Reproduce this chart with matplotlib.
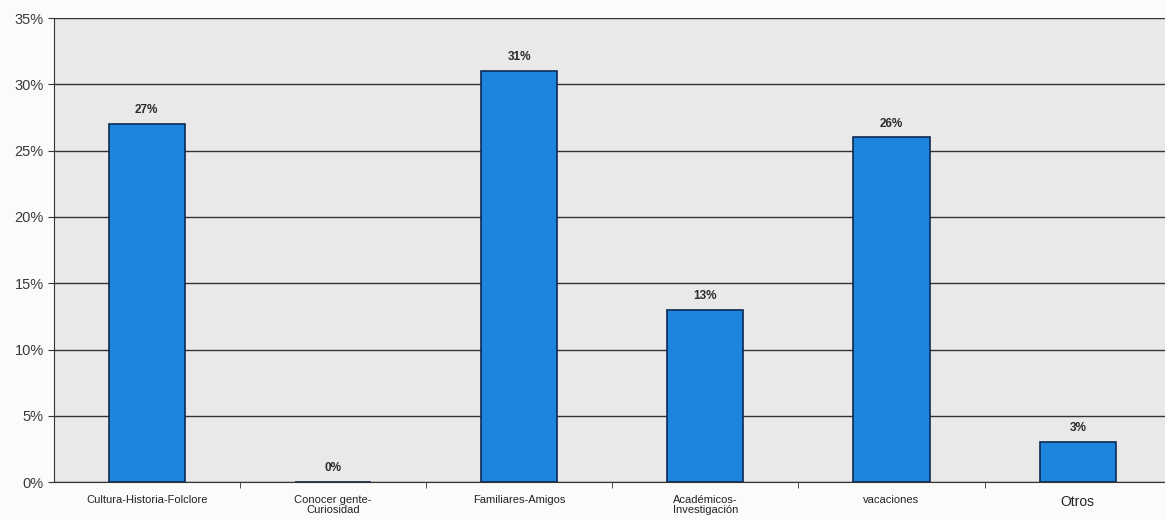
import matplotlib
matplotlib.use("Agg")
import matplotlib.pyplot as plt
import numpy as np

categories = ["Cultura-Historia-Folclore", "Conocer gente-\nCuriosidad", "Familiares-Amigos",
              "Académicos-\nInvestigación", "vacaciones", "Otros"]
values = [27, 0, 31, 13, 26, 3]
yticks = [0, 5, 10, 15, 20, 25, 30, 35]

plt.rcParams['font.family'] = ['Liberation Sans', 'DejaVu Sans']

fig = plt.figure(figsize=(11.65, 5.2), dpi=100, facecolor="#fbfbfb")
ax = fig.add_axes([0.046, 0.073, 0.959, 0.892])
ax.set_facecolor("#e9e9e9")

x = np.arange(len(categories))
ax.bar(x, values, width=0.41, color="#1d86dc", edgecolor="#0d2a55", linewidth=1.2, zorder=3)

for xi, v in zip(x, values):
    ax.text(xi, v + 0.6, f"{v}%", ha="center", va="bottom", fontsize=8.5,
            fontweight="bold", color="#2a2a2a", zorder=4)

ax.set_xlim(-0.5, len(categories) - 0.5)
ax.set_ylim(0, 35)
ax.set_yticks(yticks)
ax.set_yticklabels([f"{t}%" for t in yticks], fontsize=10.5, color="#3a3a3a")
ax.yaxis.grid(True, color="#333333", linewidth=1.0, zorder=1)
ax.set_axisbelow(True)

ax.set_xticks(x)
ax.set_xticklabels(categories, fontsize=8, color="#222222", linespacing=1.1)
ax.get_xticklabels()[-1].set_fontsize(10)
ax.tick_params(axis="x", length=0, pad=9)
ax.set_xticks(np.arange(0.5, len(categories) - 0.5, 1), minor=True)
ax.tick_params(axis="x", which="minor", length=4, color="#333333")
ax.tick_params(axis="y", length=4, color="#333333", pad=3)

for side in ["top", "right"]:
    ax.spines[side].set_visible(False)
ax.spines["left"].set_color("#333333")
ax.spines["bottom"].set_color("#333333")

fig.savefig("out.png", dpi=100, facecolor=fig.get_facecolor())
